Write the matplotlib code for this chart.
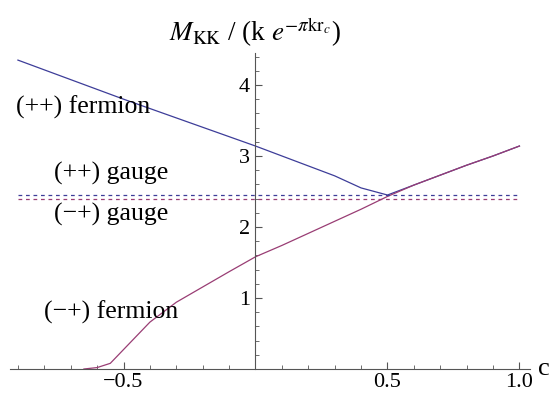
import numpy as np
import matplotlib.pyplot as plt
from matplotlib.ticker import MultipleLocator, FixedLocator

plt.rcParams['font.family'] = ['Liberation Serif', 'DejaVu Serif']
plt.rcParams['mathtext.fontset'] = 'stix'

# (++) fermion, lowest KK mode vs c
c_pp = [-0.9, -0.5, 0.0, 0.3, 0.4, 0.5, 0.6, 0.7, 0.8, 0.9, 1.0]
m_pp = [4.35, 3.80, 3.14, 2.72, 2.55, 2.45, 2.59, 2.73, 2.87, 3.00, 3.14]

# (-+) fermion
c_mp = [-0.65, -0.6, -0.55, -0.4, -0.3, -0.1, 0.0, 0.1, 0.2, 0.3, 0.4, 0.5, 0.6, 0.7, 0.8, 0.9, 1.0]
m_mp = [0.0, 0.02, 0.08, 0.66, 0.94, 1.37, 1.58, 1.74, 1.91, 2.08, 2.25, 2.43, 2.59, 2.73, 2.87, 3.00, 3.14]

# gauge modes (independent of c)
gauge_c = [-0.9, 1.0]
gauge_pp = 2.45
gauge_mp = 2.40

blue = '#3d3d99'
red = '#993d74'

fig = plt.figure(figsize=(5.58, 3.94), dpi=100)
ax = fig.add_axes([10 / 558, 25 / 394, 520 / 558, 316 / 394])

ax.plot(c_pp, m_pp, color=blue, lw=0.9)
ax.plot(c_mp, m_mp, color=red, lw=0.9)
ax.plot(gauge_c, [gauge_pp] * 2, color=blue, lw=0.9, ls=(0, (3, 3)))
ax.plot(gauge_c, [gauge_mp] * 2, color=red, lw=0.9, ls=(0, (3, 3)))

ax.set_xlim(-0.93, 1.04)
ax.set_ylim(0, 4.45)

for s in ['top', 'right']:
    ax.spines[s].set_visible(False)
ax.spines['left'].set_position(('data', 0))
for s in ['left', 'bottom']:
    ax.spines[s].set_color('#555555')
    ax.spines[s].set_linewidth(0.8)

ax.xaxis.set_major_locator(FixedLocator([-0.5, 0.5, 1.0]))
ax.xaxis.set_minor_locator(MultipleLocator(0.1))
ax.yaxis.set_major_locator(FixedLocator([1, 2, 3, 4]))
ax.yaxis.set_minor_locator(MultipleLocator(0.2))
ax.set_xticklabels(['\u22120.5', '0.5', '1.0'])
ax.tick_params(which='both', direction='in', color='#555555', labelsize=16)
ax.tick_params(which='major', length=5, width=0.8)
ax.tick_params(which='minor', length=3, width=0.6)
ax.tick_params(axis='x', pad=3)
ax.tick_params(axis='y', pad=4)

ax.text(1.07, 0, 'c', fontsize=19, va='center', ha='left', clip_on=False)
ax.text(0, 4.74, r'$M_{\rm KK}$ / (k $e^{-\pi {\rm kr}_c}$)', fontsize=19.5,
        ha='center', va='center', clip_on=False)

lab = dict(fontsize=18.5, ha='center', va='center')
ax.text(-0.653, 3.69, '(++) fermion', **lab)
ax.text(-0.545, 2.76, '(++) gauge', **lab)
ax.text(-0.545, 2.17, '(\u2212+) gauge', **lab)
ax.text(-0.545, 0.80, '(\u2212+) fermion', **lab)

fig.savefig('out.png', dpi=100)
